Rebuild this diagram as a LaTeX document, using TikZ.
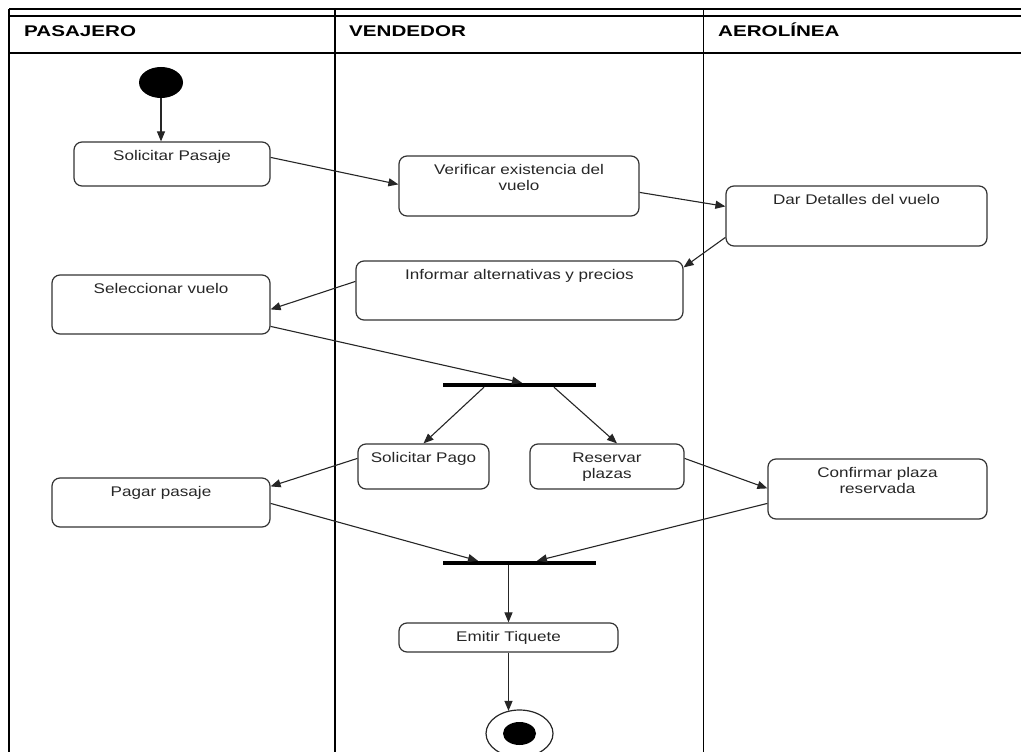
\documentclass[tikz,border=0pt]{standalone}
\usepackage{fontspec}
\setmainfont{Liberation Sans}
\newfontfamily\actfont[FakeStretch=1.22]{Liberation Sans}
\newfontfamily\lanefont[FakeStretch=1.33]{Liberation Sans}
\usetikzlibrary{arrows.meta,calc,shapes.geometric}

\begin{document}
\begin{tikzpicture}[x=1pt,y=-1pt,
  act/.style={draw=black!80, line width=1.2pt, rounded corners=8pt, inner sep=0pt,
    align=center, font=\actfont\fontsize{14}{15.5}\selectfont, text=black!85,
    text height=18.5pt},
  lane/.style={anchor=base west, inner sep=0pt,
    font=\lanefont\bfseries\fontsize{15.5}{18}\selectfont},
  frame/.style={line width=1.4pt, draw=black},
  flow/.style={draw=black!85, line width=1.1pt, -{Triangle[length=10pt,width=8pt]}},
  bar/.style={fill=black, inner sep=0pt, minimum height=4pt, minimum width=153pt},
]
\clip (0,0) rectangle (1021,752);

% swimlane frame
\draw[frame] (9,9) -- (1021,9);
\draw[frame] (9,16) -- (1021,16);
\draw[frame] (9,53) -- (1021,53);
\draw[frame] (9,9) -- (9,752);
\draw[frame] (335,9) -- (335,752);
\draw[frame] (703.5,9) -- (703.5,752);

\node[lane] (lpas) at (24,37) {PASAJERO};
\node[lane] (lven) at (349,37) {VENDEDOR};
\node[lane] (laer) at (718,37) {AEROLÍNEA};

% initial node
\node[fill=black, ellipse, inner sep=0pt, minimum width=44pt, minimum height=31pt] (st) at (161,82.5) {};

% activities
\node[act, text width=196pt, text depth=25.5pt] (sp) at (172,164) {Solicitar Pasaje};
\node[act, text width=240pt, text depth=41.5pt] (vf) at (519,186) {Verificar existencia del\\vuelo};
\node[act, text width=261pt, text depth=41.5pt] (dd) at (856.5,216) {Dar Detalles del vuelo};
\node[act, text width=327pt, text depth=40.5pt] (ia) at (519.5,290.5) {Informar alternativas y precios};
\node[act, text width=218pt, text depth=40.5pt] (sv) at (161,304.5) {Seleccionar vuelo};
\node[act, text width=131pt, text depth=26.5pt] (spg) at (423.5,466.5) {Solicitar Pago};
\node[act, text width=154pt, text depth=26.5pt] (rp) at (607,466.5) {Reservar\\plazas};
\node[act, text width=218pt, text depth=30.5pt] (pp) at (161,502.5) {Pagar pasaje};
\node[act, text width=219pt, text depth=41.5pt] (cr) at (877.5,489) {Confirmar plaza\\reservada};
\node[act, text width=219pt, text depth=10.5pt] (et) at (508.5,637.5) {Emitir Tiquete};

% fork and join bars
\node[bar] (f1) at (519.5,385) {};
\node[bar] (f2) at (519.5,563) {};

% final node
\node[draw=black!85, line width=1.2pt, ellipse, inner sep=0pt, minimum width=67pt, minimum height=47pt] (fin) at (519.5,733.5) {};
\node[fill=black, ellipse, inner sep=0pt, minimum width=33pt, minimum height=23pt] (fdot) at (fin.center) {};

% control flow
\draw[flow] (st.south) -- (st.south |- sp.north);
\draw[flow] ($(sp.north east)+(0,16)$) -- ($(vf.north west)+(0,29)$);
\draw[flow] ($(vf.north east)+(0,37)$) -- ($(dd.north west)+(0,21)$);
\draw[flow] ($(dd.north west)+(0,52)$) -- ($(ia.north east)+(0,7)$);
\draw[flow] ($(ia.north west)+(0,21)$) -- ($(sv.north east)+(0,35)$);
\draw[flow] ($(sv.north east)+(0,52)$) -- ($(f1.north)+(2.5,0)$);
\draw[flow] ($(f1.south)+(-35.5,0)$) -- (spg.north);
\draw[flow] ($(f1.south)+(34.5,0)$) -- ($(rp.north)+(10,0)$);
\draw[flow] ($(spg.north west)+(0,15)$) -- ($(pp.north east)+(0,9)$);
\draw[flow] ($(rp.north east)+(0,15)$) -- ($(cr.north west)+(0,30)$);
\draw[flow] ($(pp.north east)+(0,26)$) -- ($(f2.north)+(-41.5,0)$);
\draw[flow] ($(cr.north west)+(0,45)$) -- ($(f2.north)+(17.5,0)$);
\draw[flow] ($(f2.south)+(-11,0)$) -- (et.north);
\draw[flow] (et.south) -- ($(et.south |- fin.north)+(0,1.5)$);
\end{tikzpicture}
\end{document}
